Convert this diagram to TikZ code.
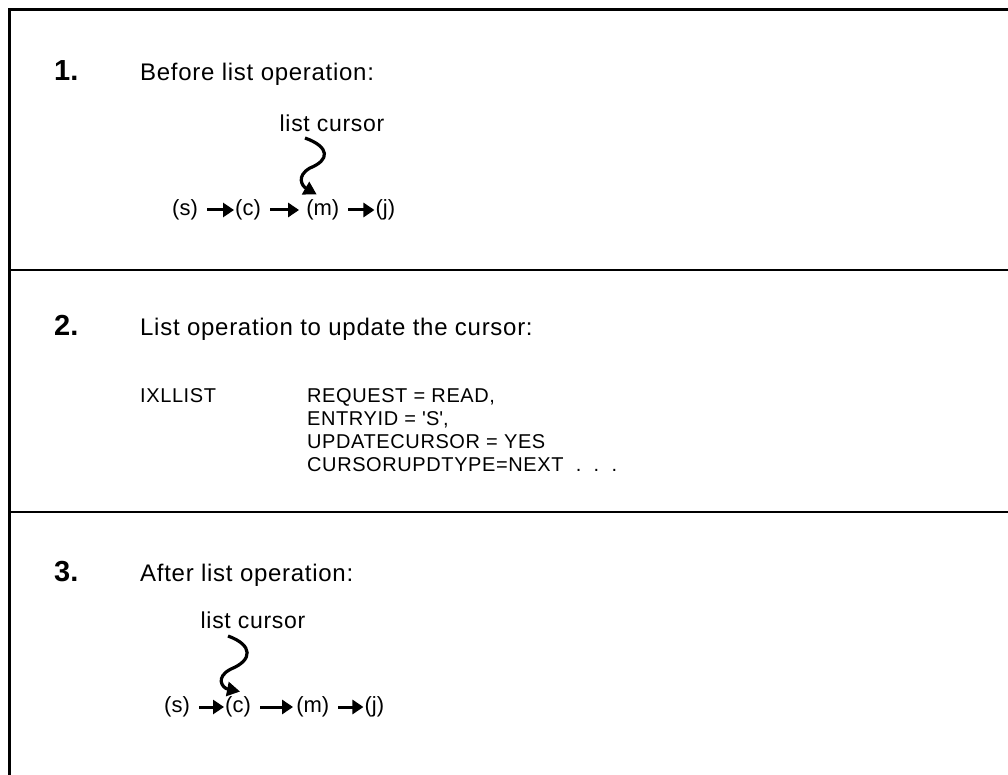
\documentclass[tikz,border=0pt]{standalone}
\usepackage{fontspec}
\setmainfont{Liberation Sans}
\newfontfamily\spaced[LetterSpace=3]{Liberation Sans}
\usetikzlibrary{positioning,arrows.meta}

\tikzset{
  num/.style={font=\fontsize{29}{32}\selectfont\bfseries, anchor=base west, inner sep=0},
  head/.style={font=\fontsize{24}{28}\selectfont\spaced, anchor=base west, inner sep=0},
  item/.style={font=\fontsize{22}{26}\selectfont, inner sep=0},
  label/.style={font=\fontsize{23}{26}\selectfont\spaced, inner sep=0},
  code/.style={font=\fontsize{20}{23}\selectfont\spaced, anchor=base west, inner sep=0},
  link/.style={line width=3pt, -{Triangle[length=11pt,width=14pt]}, shorten <=9pt, shorten >=1pt},
  wiggle/.style={line width=3.2pt, -{Triangle[length=13pt,width=14pt]}},
  frame/.style={line width=3pt},
  rule/.style={line width=2.5pt},
}

\begin{document}
\begin{tikzpicture}[x=1pt,y=-1pt]
\useasboundingbox (0,0) rectangle (1008,775);

% outer frame and section rules
\draw[frame] (1030,9.5) -- (9.5,9.5) -- (9.5,800);
\draw[rule] (9.5,270) -- (1030,270);
\draw[rule] (9.5,512) -- (1030,512);

% 1. before
\node[num] (n1) at (54,81) {1.};
\node[head] (h1) at (140,81) {Before list operation:};
\node[label] (lc1) at (332,123) {list cursor};
\node[item] (s1) at (185,210) {(s)};
\node[item] (c1) [right=37pt of s1] {(c)};
\node[item] (m1) [right=45pt of c1] {(m)};
\node[item] (j1) [right=36pt of m1] {(j)};
\coordinate (w1) at (305,138);
\coordinate (b1) at (310,168);

\draw[link] (s1) -- (c1);
\draw[link, shorten >=7pt] (c1) -- (m1);
\draw[link] (m1) -- (j1);
\draw[wiggle] (w1) .. controls (330,147) and (330,160) .. (b1)
  .. controls (296,176) and (302,186) .. ([xshift=-6pt,yshift=5pt]m1.north);

% 2. list operation
\node[num] (n2) at (54,335) {2.};
\node[head] (h2) at (140,335) {List operation to update the cursor:};
\node[code] (ixl) at (140,402) {IXLLIST};
\node[code] (req) at (307,402) {REQUEST = READ,};
\node[code] (ent) at (307,425) {ENTRYID = \textquotesingle S\textquotesingle,};
\node[code] (upd) at (307,448) {UPDATECURSOR = YES};
\node[code] (typ) at (307,471) {CURSORUPDTYPE=NEXT\ \ .\ \ .\ \ .};

% 3. after
\node[num] (n3) at (54,581) {3.};
\node[head] (h3) at (140,581) {After list operation:};
\node[label] (lc3) at (253,620) {list cursor};
\node[item] (s3) at (177,707) {(s)};
\node[item] (c3) [right=35pt of s3] {(c)};
\node[item] (m3) [right=45pt of c3] {(m)};
\node[item] (j3) [right=35pt of m3] {(j)};
\coordinate (w3) at (228,636);
\coordinate (b3) at (231,669);

\draw[link] (s3) -- (c3);
\draw[link, shorten >=3pt] (c3) -- (m3);
\draw[link] (m3) -- (j3);
\draw[wiggle] (w3) .. controls (253,645) and (253,660) .. (b3)
  .. controls (215,677) and (222,688) .. ([xshift=2pt,yshift=5pt]c3.north);
\end{tikzpicture}
\end{document}
